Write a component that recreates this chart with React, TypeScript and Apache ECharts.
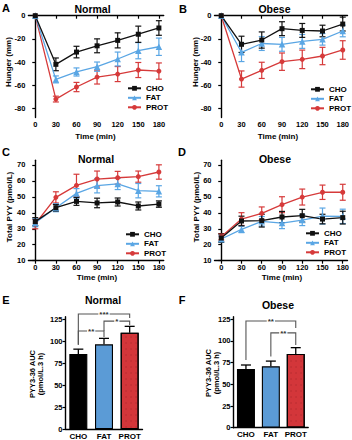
import React, { useEffect, useRef } from 'react';
import * as echarts from 'echarts';

const FONT = "'Liberation Sans', Arial, Helvetica, sans-serif";

const times = [0, 30, 60, 90, 120, 150, 180];
const diets = ['CHO', 'FAT', 'PROT'];

// Panel A: hunger, normal weight
const hungerNormalCHO = [0, -42, -31.4, -26, -21.3, -16, -10.6];
const hungerNormalCHOErr = [0, 5.5, 5, 6, 6.5, 7, 6.3];
const hungerNormalFAT = [0, -55, -48.6, -44, -37.4, -30.2, -26.8];
const hungerNormalFATErr = [0, 3, 3.5, 4, 6, 7, 7.5];
const hungerNormalPROT = [0, -72, -61.6, -53, -50.4, -46.9, -47.8];
const hungerNormalPROTErr = [0, 2.5, 4, 6, 6.5, 6.5, 7];

// Panel B: hunger, obese
const hungerObeseCHO = [0, -24.7, -21, -11.2, -12.7, -13.2, -7.2];
const hungerObeseCHOErr = [0, 7, 7, 6, 6, 5, 6];
const hungerObeseFAT = [0, -31.6, -24, -24.7, -22.2, -20.4, -13.2];
const hungerObeseFATErr = [0, 8, 6, 6, 6, 5, 5];
const hungerObesePROT = [0, -54.7, -47.2, -39.7, -37.7, -34.8, -29.6];
const hungerObesePROTErr = [0, 7, 7, 7.5, 8, 7.5, 8];

// Panel C: total PYY, normal weight
const pyyNormalCHO = [34.5, 43.2, 47.2, 46.2, 46.8, 44.3, 45.5];
const pyyNormalCHOErr = [2.5, 2, 2.5, 3, 2.5, 2.5, 2];
const pyyNormalFAT = [33.8, 43.2, 52.2, 57, 58.1, 53.9, 53.5];
const pyyNormalFATErr = [2.5, 2.5, 3, 4.5, 3.5, 4.5, 3.5];
const pyyNormalPROT = [33, 49.7, 57.2, 61.2, 62, 62.7, 65.6];
const pyyNormalPROTErr = [3, 3.5, 7, 5, 4, 3.5, 4.5];

// Panel D: total PYY, obese
const pyyObeseCHO = [24.2, 34.9, 35.1, 37.4, 38.2, 36.1, 37];
const pyyObeseCHOErr = [2.5, 3, 4, 3.5, 4, 3, 4];
const pyyObeseFAT = [23.6, 29.6, 34.7, 33.6, 35.5, 38, 37.8];
const pyyObeseFATErr = [2, 2, 3, 3.5, 3.5, 5, 4.5];
const pyyObesePROT = [25, 36.1, 39.7, 45.1, 49.9, 52.9, 52.9];
const pyyObesePROTErr = [2, 4, 4, 5, 5, 4.5, 5];

// Panels E/F: PYY3-36 AUC
const aucNormal = [85.5, 96.5, 109.8];
const aucNormalErr = [5.5, 6.8, 7.2];
const aucObese = [67.7, 70.8, 85];
const aucObeseErr = [4.6, 6, 7.3];

// significance brackets: [fromCat, toCat, bracketTop, fromLegEnd, toLegEnd]
const sigNormal = [
  [0, 2, 131, 96, 126.5],
  [0, 1, 111.7, 96, 105],
  [1, 2, 123, 111.7, 118.5],
];
const sigNormalLabels = ['***', '**', '*'];
const sigObese = [
  [0, 2, 123, 78, 115],
  [1, 2, 109.3, 82, 95.4],
];
const sigObeseLabels = ['**', '**'];

const hungerTicks = [-80, -60, -40, -20, 0];
const pyyTicks = [10, 20, 30, 40, 50, 60, 70];
const aucTicks = [0, 25, 50, 75, 100, 125];

const lineColors = ['#111111', '#5aa6e4', '#d63a3a'];
const barColors = ['#000000', '#5b9bd6', '#d3363a'];
const symbols = ['rect', 'triangle', 'circle'];
const symbolSizes = [5, 6.5, 5];

export default function App() {
  const ref = useRef<HTMLDivElement>(null);
  useEffect(() => {
    document.body.style.margin = '0';
    const chart = echarts.init(ref.current!, null, { renderer: 'svg' });

    const panels = [
      { vals: [hungerNormalCHO, hungerNormalFAT, hungerNormalPROT], errs: [hungerNormalCHOErr, hungerNormalFATErr, hungerNormalPROTErr] },
      { vals: [hungerObeseCHO, hungerObeseFAT, hungerObesePROT], errs: [hungerObeseCHOErr, hungerObeseFATErr, hungerObesePROTErr] },
      { vals: [pyyNormalCHO, pyyNormalFAT, pyyNormalPROT], errs: [pyyNormalCHOErr, pyyNormalFATErr, pyyNormalPROTErr] },
      { vals: [pyyObeseCHO, pyyObeseFAT, pyyObesePROT], errs: [pyyObeseCHOErr, pyyObeseFATErr, pyyObesePROTErr] },
    ];

    const grids = [
      { left: 28.4, top: 13.4, width: 135.3, height: 104.2 },
      { left: 214.5, top: 13.4, width: 134, height: 104.2 },
      { left: 28.4, top: 160.2, width: 135.3, height: 100.5 },
      { left: 214.5, top: 160.2, width: 134, height: 100.5 },
      { left: 65.5, top: 316.7, width: 77, height: 112.3 },
      { left: 233.5, top: 316.7, width: 74.7, height: 111 },
    ];

    const axisLine = { show: true, lineStyle: { color: '#000', width: 1.4 } };
    const axisTick = (vals?: number[]) => ({ show: true, length: 3, lineStyle: { color: '#000', width: 1.2 }, ...(vals ? { customValues: vals } : {}) });
    const axisLabel = (vals?: number[]) => ({ color: '#000', fontSize: 7.5, fontWeight: 'bold', fontFamily: FONT, margin: 3, ...(vals ? { customValues: vals } : {}) });

    const xAxis: any[] = [];
    const yAxis: any[] = [];
    for (let i = 0; i < 4; i++) {
      xAxis.push({ type: 'value', gridIndex: i, min: -10, max: 187, axisLine, axisTick: axisTick(times), axisLabel: axisLabel(times), splitLine: { show: false } });
      const isHunger = i < 2;
      yAxis.push({
        type: 'value', gridIndex: i,
        min: isHunger ? -88 : 10, max: isHunger ? 2 : 73,
        axisLine, axisTick: axisTick(isHunger ? hungerTicks : pyyTicks),
        axisLabel: axisLabel(isHunger ? hungerTicks : pyyTicks), splitLine: { show: false },
      });
    }
    for (let i = 4; i < 6; i++) {
      xAxis.push({ type: 'category', gridIndex: i, data: diets, axisLine, axisTick: { show: false }, axisLabel: { interval: 0, color: '#000', fontSize: 8, fontWeight: 'bold', fontFamily: FONT, margin: 3 } });
      yAxis.push({ type: 'value', gridIndex: i, min: 0, max: 128, axisLine, axisTick: axisTick(aucTicks), axisLabel: axisLabel(aucTicks), splitLine: { show: false } });
    }

    const errRender = (color: string, cap: number) => (params: any, api: any) => {
      const x = api.value(0), y = api.value(1), e = api.value(2);
      if (!e) return null;
      const t = api.coord([x, y + e]);
      const b = api.coord([x, y - e]);
      const style = { stroke: color, lineWidth: 1.2, fill: 'none' };
      return {
        type: 'group', children: [
          { type: 'line', shape: { x1: t[0], y1: t[1], x2: b[0], y2: b[1] }, style },
          { type: 'line', shape: { x1: t[0] - cap, y1: t[1], x2: t[0] + cap, y2: t[1] }, style },
          { type: 'line', shape: { x1: b[0] - cap, y1: b[1], x2: b[0] + cap, y2: b[1] }, style },
        ],
      };
    };

    const series: any[] = [];
    panels.forEach((p, gi) => {
      [2, 1, 0].forEach((d) => {
        series.push({
          type: 'custom', name: diets[d] + ' SEM', xAxisIndex: gi, yAxisIndex: gi, clip: false, silent: true, z: 2,
          data: times.map((t, k) => [t, p.vals[d][k], p.errs[d][k]]),
          encode: { x: 0, y: 1 },
          renderItem: errRender(lineColors[d], 3),
        });
        series.push({
          type: 'line', name: diets[d], xAxisIndex: gi, yAxisIndex: gi, clip: false, z: 3,
          data: times.map((t, k) => [t, p.vals[d][k]]),
          symbol: symbols[d], symbolSize: symbolSizes[d], showSymbol: true,
          lineStyle: { color: lineColors[d], width: 1.3 },
          itemStyle: { color: lineColors[d] },
        });
      });
    });

    const barPanels = [
      { vals: aucNormal, errs: aucNormalErr, sig: sigNormal, labels: sigNormalLabels },
      { vals: aucObese, errs: aucObeseErr, sig: sigObese, labels: sigObeseLabels },
    ];
    barPanels.forEach((bp, k) => {
      const gi = 4 + k;
      series.push({
        type: 'bar', name: 'AUC ' + (k ? 'Obese' : 'Normal'), xAxisIndex: gi, yAxisIndex: gi, barWidth: 18, z: 2,
        data: bp.vals.map((v, i) => ({
          value: v,
          itemStyle: {
            color: barColors[i], borderColor: '#000', borderWidth: 1.1,
            ...(i === 2 ? { decal: { symbol: 'circle', symbolSize: 0.6, color: 'rgba(120,20,20,0.4)', dashArrayX: [1.5, 3], dashArrayY: [1.5, 4], rotation: 0 } } : {}),
          },
        })),
      });
      series.push({
        type: 'custom', name: 'AUC SEM ' + k, xAxisIndex: gi, yAxisIndex: gi, clip: false, silent: true, z: 1,
        data: bp.vals.map((v, i) => [i, v, bp.errs[i]]),
        encode: { x: 0, y: 1 },
        renderItem: (params: any, api: any) => {
          const x = api.value(0), y = api.value(1), e = api.value(2);
          const t = api.coord([x, y + e]);
          const b = api.coord([x, y]);
          const style = { stroke: '#000', lineWidth: 1.3, fill: 'none' };
          return {
            type: 'group', children: [
              { type: 'line', shape: { x1: t[0], y1: t[1], x2: b[0], y2: b[1] }, style },
              { type: 'line', shape: { x1: t[0] - 5, y1: t[1], x2: t[0] + 5, y2: t[1] }, style },
            ],
          };
        },
      });
      series.push({
        type: 'custom', name: 'Significance ' + k, xAxisIndex: gi, yAxisIndex: gi, clip: false, silent: true, z: 5,
        data: bp.sig,
        encode: { x: [0, 1], y: [2, 3, 4] },
        renderItem: (params: any, api: any) => {
          const a = api.value(0), c = api.value(1);
          const top = api.value(2), la = api.value(3), lc = api.value(4);
          const p1 = api.coord([a, la]);
          const p2 = api.coord([a, top]);
          const p3 = api.coord([c, top]);
          const p4 = api.coord([c, lc]);
          return {
            type: 'group', children: [
              { type: 'polyline', shape: { points: [p1, p2, p3, p4] }, style: { stroke: '#555', lineWidth: 1.1, fill: 'none' } },
              {
                type: 'text', x: (p2[0] + p3[0]) / 2, y: p2[1] + 0.5,
                style: { text: bp.labels[params.dataIndex], font: `bold 8px ${FONT}`, fill: '#333', textAlign: 'center', textVerticalAlign: 'middle', backgroundColor: '#fff', padding: [0, 1] },
              },
            ],
          };
        },
      });
    });

    const legendPos = [
      { left: 127, top: 84.3 },
      { left: 310, top: 85.3 },
      { left: 125, top: 230.3 },
      { left: 305, top: 229.3 },
    ];
    const legend = legendPos.map((lp) => ({
      data: diets, orient: 'vertical', left: lp.left, top: lp.top, padding: 0,
      itemWidth: 13, itemHeight: 6, itemGap: 1.5, selectedMode: false,
      textStyle: { fontSize: 8, lineHeight: 8, fontWeight: 'bold', color: '#000', fontFamily: FONT },
    }));

    const txt = (text: string, x: number, y: number, size: number, rot = 0) => ({
      type: 'text', x, y, rotation: rot, silent: true,
      style: { text, font: `bold ${size}px ${FONT}`, fill: '#000', textAlign: 'center', textVerticalAlign: 'middle' },
    });
    const R = Math.PI / 2;
    const graphic = [
      txt('A', 6, 8, 11), txt('B', 183, 9, 11), txt('C', 6, 152, 11), txt('D', 182, 152, 11), txt('E', 6, 300, 11), txt('F', 182, 300, 11),
      txt('Normal', 92.5, 8.5, 10.5), txt('Obese', 274.5, 8.5, 10.5),
      txt('Normal', 96, 158.5, 10.5), txt('Obese', 275, 158.5, 10.5),
      txt('Normal', 103, 300, 10.5), txt('Obese', 278, 305, 10.5),
      txt('Time (min)', 95.5, 136.5, 8), txt('Time (min)', 278, 136.5, 8),
      txt('Time (min)', 97, 277.5, 8), txt('Time (min)', 282, 277, 8),
      txt('Hunger (mm)', 8.5, 62, 8, R), txt('Hunger (mm)', 195, 62, 8, R),
      txt('Total PYY (pmol/L)', 9.5, 207, 8, R), txt('Total PYY (pmol/L)', 196.5, 207, 8, R),
      txt('PYY3-36 AUC\n(pmol/L.3 h)', 36, 374, 7.5, R), txt('PYY3-36 AUC\n(pmol/L.3 h)', 212, 373, 7.5, R),
    ];

    chart.setOption({
      animation: false,
      backgroundColor: '#fff',
      grid: grids,
      xAxis, yAxis, series, legend, graphic,
    });
    return () => chart.dispose();
  }, []);
  return <div ref={ref} style={{ position: 'absolute', left: 0, top: 0, width: 352, height: 440 }} />;
}
